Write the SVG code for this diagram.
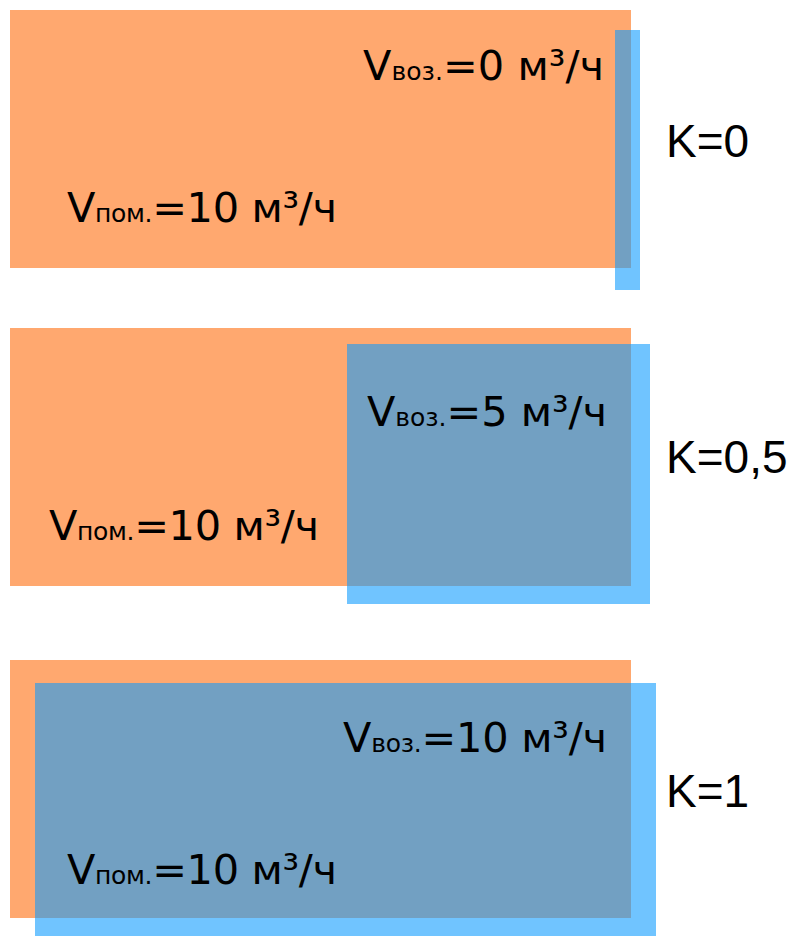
<svg xmlns="http://www.w3.org/2000/svg" width="796" height="936" viewBox="0 0 796 936">
<style>
.room{fill:#FFA86F}
.ret{fill:#70C4FF}
.ovl{fill:#72A0C2}
.v{font-family:"DejaVu Sans",Verdana,sans-serif;font-size:41.5px;fill:#000}
.sub{font-size:25px}
.k{font-family:"Liberation Sans",Arial,sans-serif;font-size:46px;fill:#000}
</style>
<rect width="796" height="936" fill="#fff"/>
<g id="panel-k0">
<rect class="room" x="10" y="10" width="621" height="258"/>
<rect class="ret" x="615" y="30" width="25" height="260"/>
<rect class="ovl" x="615" y="30" width="16" height="238"/>
<text class="v" x="363" y="80" textLength="241" lengthAdjust="spacing">V<tspan class="sub">воз.</tspan>=0 м³/ч</text>
<text class="v" x="67" y="222" textLength="270" lengthAdjust="spacing">V<tspan class="sub">пом.</tspan>=10 м³/ч</text>
<text class="k" x="666" y="157">K=0</text>
</g>
<g id="panel-k05">
<rect class="room" x="10" y="328" width="621" height="258"/>
<rect class="ret" x="347" y="344" width="303" height="260"/>
<rect class="ovl" x="347" y="344" width="284" height="242"/>
<text class="v" x="367" y="426" textLength="240" lengthAdjust="spacing">V<tspan class="sub">воз.</tspan>=5 м³/ч</text>
<text class="v" x="49" y="540" textLength="270" lengthAdjust="spacing">V<tspan class="sub">пом.</tspan>=10 м³/ч</text>
<text class="k" x="666" y="473">K=0,5</text>
</g>
<g id="panel-k1">
<rect class="room" x="10" y="660" width="621" height="258"/>
<rect class="ret" x="35" y="683" width="621" height="253"/>
<rect class="ovl" x="35" y="683" width="596" height="235"/>
<text class="v" x="343" y="752" textLength="264" lengthAdjust="spacing">V<tspan class="sub">воз.</tspan>=10 м³/ч</text>
<text class="v" x="67" y="884" textLength="270" lengthAdjust="spacing">V<tspan class="sub">пом.</tspan>=10 м³/ч</text>
<text class="k" x="666" y="807">K=1</text>
</g>
</svg>
